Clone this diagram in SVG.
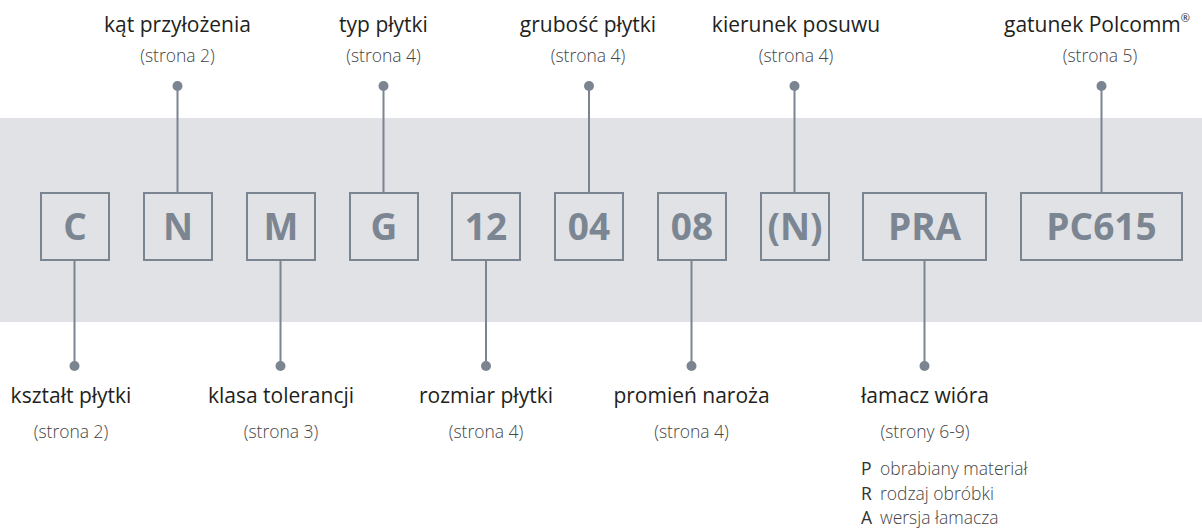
<svg xmlns="http://www.w3.org/2000/svg" width="1202" height="529" viewBox="0 0 1202 529">
<style>
.band{fill:#e1e2e6}
.box{fill:none;stroke:#7b8591;stroke-width:2}
.code{font-family:"Open Sans","Noto Sans",sans-serif;font-weight:bold;font-size:37px;fill:#7b8692;text-anchor:middle}
.lbl{font-family:"Open Sans","Noto Sans",sans-serif;font-size:21px;fill:#231f20;text-anchor:middle}
.sub{font-family:"Open Sans","Noto Sans",sans-serif;font-weight:300;font-size:17.5px;fill:#444;text-anchor:middle}
.li{font-family:"Open Sans","Noto Sans",sans-serif;font-weight:300;font-size:17.5px;fill:#444}
.lk{font-family:"Open Sans","Noto Sans",sans-serif;font-size:17.5px;fill:#333}
.ln{stroke:#7b8591;stroke-width:2;fill:none}
.dot{fill:#7b8591}
</style>
<rect class="band" x="0" y="118" width="1202" height="204"/>
<g id="connectors">
<line class="ln" x1="74.5" y1="260" x2="74.5" y2="366"/><circle class="dot" cx="74.5" cy="366" r="5"/>
<line class="ln" x1="177.5" y1="192" x2="177.5" y2="86"/><circle class="dot" cx="177.5" cy="86" r="5"/>
<line class="ln" x1="280.5" y1="260" x2="280.5" y2="366"/><circle class="dot" cx="280.5" cy="366" r="5"/>
<line class="ln" x1="383.5" y1="192" x2="383.5" y2="86"/><circle class="dot" cx="383.5" cy="86" r="5"/>
<line class="ln" x1="486" y1="260" x2="486" y2="366"/><circle class="dot" cx="486" cy="366" r="5"/>
<line class="ln" x1="589" y1="192" x2="589" y2="86"/><circle class="dot" cx="589" cy="86" r="5"/>
<line class="ln" x1="691.5" y1="260" x2="691.5" y2="366"/><circle class="dot" cx="691.5" cy="366" r="5"/>
<line class="ln" x1="794.5" y1="192" x2="794.5" y2="86"/><circle class="dot" cx="794.5" cy="86" r="5"/>
<line class="ln" x1="924.5" y1="260" x2="924.5" y2="366"/><circle class="dot" cx="924.5" cy="366" r="5"/>
<line class="ln" x1="1101.5" y1="192" x2="1101.5" y2="86"/><circle class="dot" cx="1101.5" cy="86" r="5"/>
</g>
<g id="n-C"><rect class="box" x="41" y="193" width="68" height="67"/><text class="code" x="75" y="240">C</text>
<text class="lbl" x="71" y="403">kształt płytki</text><text class="sub" x="71" y="438">(strona 2)</text></g>
<g id="n-N"><rect class="box" x="144" y="193" width="68" height="67"/><text class="code" x="178" y="240">N</text>
<text class="lbl" x="177.5" y="32">kąt przyłożenia</text><text class="sub" x="177.5" y="62">(strona 2)</text></g>
<g id="n-M"><rect class="box" x="247" y="193" width="68" height="67"/><text class="code" x="281" y="240">M</text>
<text class="lbl" x="281" y="403">klasa tolerancji</text><text class="sub" x="281" y="438">(strona 3)</text></g>
<g id="n-G"><rect class="box" x="350" y="193" width="68" height="67"/><text class="code" x="384" y="240">G</text>
<text class="lbl" x="383.5" y="32">typ płytki</text><text class="sub" x="383.5" y="62">(strona 4)</text></g>
<g id="n-12"><rect class="box" x="452" y="193" width="68" height="67"/><text class="code" x="486" y="240">12</text>
<text class="lbl" x="486" y="403">rozmiar płytki</text><text class="sub" x="486" y="438">(strona 4)</text></g>
<g id="n-04"><rect class="box" x="555" y="193" width="68" height="67"/><text class="code" x="589" y="240">04</text>
<text class="lbl" x="588" y="32">grubość płytki</text><text class="sub" x="588" y="62">(strona 4)</text></g>
<g id="n-08"><rect class="box" x="658" y="193" width="68" height="67"/><text class="code" x="692" y="240">08</text>
<text class="lbl" x="691.5" y="403">promień naroża</text><text class="sub" x="691.5" y="438">(strona 4)</text></g>
<g id="n-Np"><rect class="box" x="761" y="193" width="68" height="67"/><text class="code" x="795" y="240">(N)</text>
<text class="lbl" x="796" y="32">kierunek posuwu</text><text class="sub" x="796" y="62">(strona 4)</text></g>
<g id="n-PRA"><rect class="box" x="863" y="193" width="123" height="67"/><text class="code" x="924.5" y="240">PRA</text>
<text class="lbl" x="925" y="403">łamacz wióra</text><text class="sub" x="925" y="438">(strony 6-9)</text>
<text class="lk" x="861" y="475">P</text><text class="li" x="880" y="475">obrabiany materiał</text>
<text class="lk" x="861" y="500">R</text><text class="li" x="880" y="500">rodzaj obróbki</text>
<text class="lk" x="861" y="524">A</text><text class="li" x="880" y="524">wersja łamacza</text></g>
<g id="n-PC615"><rect class="box" x="1021" y="193" width="161" height="67"/><text class="code" x="1101.5" y="240">PC615</text>
<text class="lbl" x="1097" y="32">gatunek Polcomm<tspan font-size="11" dy="-10">®</tspan></text><text class="sub" x="1100" y="62">(strona 5)</text></g>
</svg>
